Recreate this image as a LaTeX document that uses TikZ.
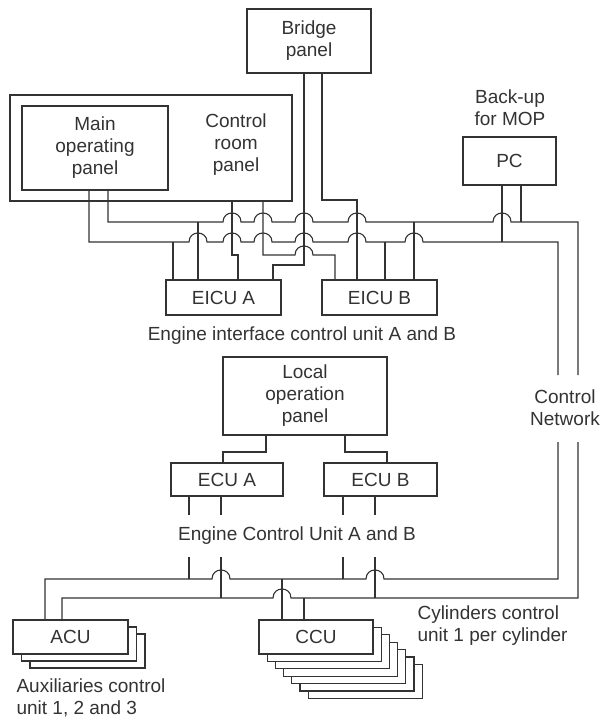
\documentclass[tikz,border=0pt]{standalone}
\usepackage{fontspec}
\setmainfont{Liberation Sans}
\begin{document}
\begin{tikzpicture}[x=1pt,y=-1pt,line width=1.1pt,color=black!80,
  box/.style={draw, fill=white, inner sep=0pt, align=center, font=\fontsize{19}{22}\selectfont},
  lbl/.style={align=center, inner sep=0pt, font=\fontsize{19}{22}\selectfont},
  lbll/.style={align=left, inner sep=0pt, anchor=west, font=\fontsize{19}{22}\selectfont},
  hop/.style args={#1/#2}{insert path={-- ({#1-9},#2) .. controls ({#1-9},{#2-12}) and ({#1+9},{#2-12}) .. ({#1+9},#2)}}]
\useasboundingbox (0,0) rectangle (601,719);
% boxes
\node[box, minimum width=124pt, minimum height=64pt] (bridge) at (309,41) {Bridge\\panel};
\node[box, minimum width=282pt, minimum height=106pt] (crp) at (151,148) {};
\node[box, minimum width=146pt, minimum height=84pt] (mop) at (95,148) {Main\\operating\\panel};
\node[lbl] (crpl) at (236,145) {Control\\room\\panel};
\node[lbl] (bkl) at (510,108) {Back-up\\for MOP};
\node[box, minimum width=93pt, minimum height=48pt] (pc) at (509.5,161) {PC};
\node[box, minimum width=115pt, minimum height=35pt] (eicua) at (223.5,297.5) {EICU A};
\node[box, minimum width=115pt, minimum height=35pt] (eicub) at (379.5,297.5) {EICU B};
\node[lbl] (eicul) at (302,336) {Engine interface control unit A and B};
\node[box, minimum width=164pt, minimum height=78pt] (lop) at (305,396) {Local\\operation\\panel};
\node[box, minimum width=112pt, minimum height=33pt] (ecua) at (227,479.5) {ECU A};
\node[box, minimum width=113pt, minimum height=33pt] (ecub) at (380.5,479.5) {ECU B};
\node[lbl] (ecul) at (297,536) {Engine Control Unit A and B};
\node[lbl] (netl) at (565,408) {Control\\Network};
% ACU stack
\foreach \i in {2,1} {
  \node[box, minimum width=115pt, minimum height=34pt] (acu\i) at ({70.5+8.5*\i},{637+7*\i}) {};
}
\node[box, minimum width=115pt, minimum height=34pt] (acu) at (70.5,637) {ACU};
% CCU stack
\foreach \i in {6,5,4,3,2,1} {
  \node[box, minimum width=114pt, minimum height=34pt] (ccu\i) at ({316+8.2*\i},{637+7.4*\i}) {};
}
\node[box, minimum width=114pt, minimum height=34pt] (ccu) at (316,637) {CCU};
\node[lbll] (auxl) at (16,698) {Auxiliaries control\\unit 1, 2 and 3};
\node[lbll] (cyll) at (417,626) {Cylinders control\\unit 1 per cylinder};
% bridge connections
\draw (bridge.south -| 304,0) -- (304,265) -- (273,265) -- (eicua.north -| 273,0);
\draw (bridge.south -| 322,0) -- (322,200) -- (357,200) -- (eicub.north -| 357,0);
% control room connections
\draw (crp.south -| 232,0) -- (232,255) -- (238,255) -- (eicua.north -| 238,0);
\draw (crp.south -| 263,0) -- (263,255) [hop=304/255] -- (335,255) -- (eicub.north -| 335,0);
% network bus 1
\draw (mop.south -| 108,0) -- (108,222) [hop=232/222] [hop=263/222] [hop=304/222] [hop=357/222] [hop=502/222] -- (578,222) -- (578,375);
\draw (acu.north -| 62,0) -- (62,598) [hop=282/598] -- (578,598) -- (578,442);
% network bus 2
\draw (mop.south -| 89,0) -- (89,242) [hop=198/242] [hop=232/242] [hop=263/242] [hop=304/242] [hop=357/242] [hop=414/242] -- (558,242) -- (558,375);
\draw (acu.north -| 45,0) -- (45,579) [hop=221/579] [hop=375/579] -- (558,579) -- (558,442);
% drops to EICU
\draw (173,242) -- (eicua.north -| 173,0);
\draw (198,222) -- (eicua.north -| 198,0);
\draw (385,242) -- (eicub.north -| 385,0);
\draw (414,222) -- (eicub.north -| 414,0);
% PC
\draw (pc.south -| 502,0) -- (502,242);
\draw (pc.south -| 521,0) -- (521,222);
% local operation panel
\draw (lop.south -| 266,0) -- (266,452) -- (223,452) -- (ecua.north -| 223,0);
\draw (lop.south -| 345,0) -- (345,452) -- (387,452) -- (ecub.north -| 387,0);
% ECU
\draw (ecua.south -| 189,0) -- (189,515); \draw (189,557) -- (189,579);
\draw (ecua.south -| 221,0) -- (221,515); \draw (221,557) -- (221,598);
\draw (ecub.south -| 343,0) -- (343,515); \draw (343,557) -- (343,579);
\draw (ecub.south -| 375,0) -- (375,515); \draw (375,557) -- (375,598);
% CCU
\draw (282,579) -- (ccu.north -| 282,0);
\draw (304,598) -- (ccu.north -| 304,0);
\end{tikzpicture}
\end{document}
